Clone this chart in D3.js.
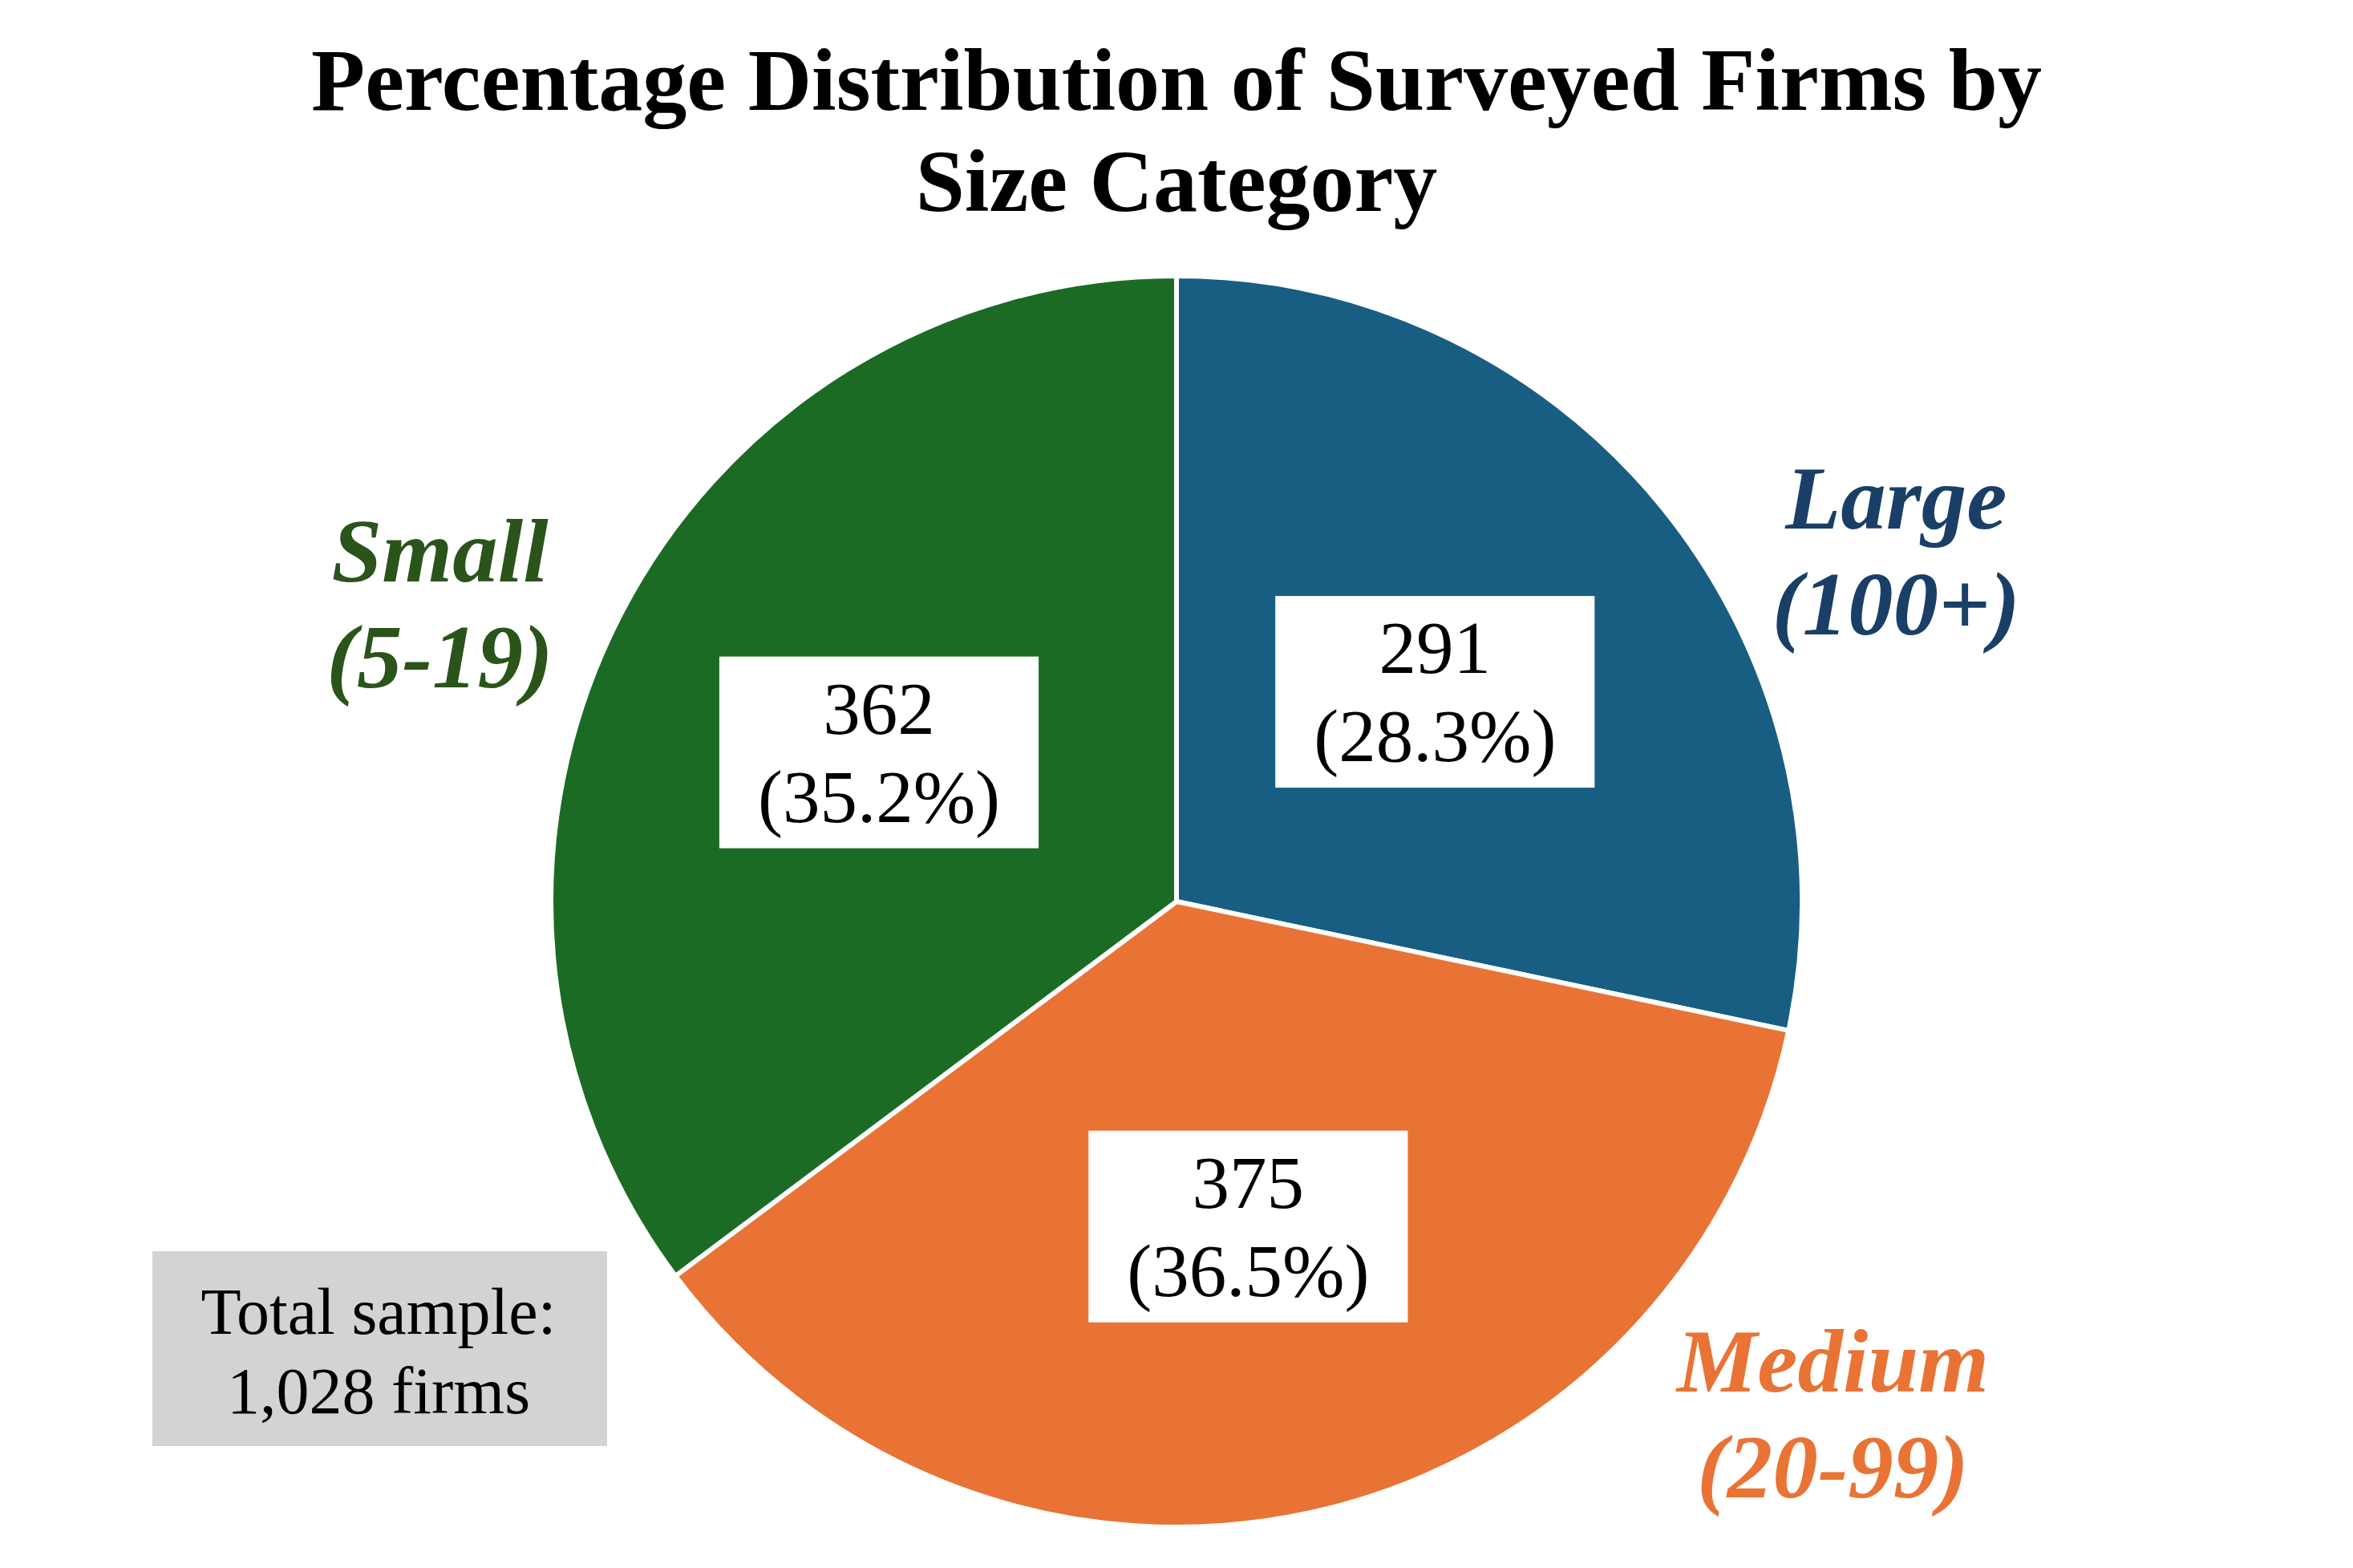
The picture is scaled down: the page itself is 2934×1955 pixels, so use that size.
<!DOCTYPE html>
<html>
<head>
<meta charset="utf-8">
<script src="https://cdn.jsdelivr.net/npm/d3@7/dist/d3.min.js"></script>
<style>
    body { margin: 0; background: #ffffff; }
    text { font-family: "Liberation Serif", "Times New Roman", Times, serif; }
</style>
</head>
<body>
<div id="chart"></div>
<script>
// Dados do gráfico (ordem horária a partir do topo)
const categories = ["Large", "Medium", "Small"];
const ranges = ["(100+)", "(20-99)", "(5-19)"];
const firms = [291, 375, 362];
const percents = [28.3, 36.5, 35.2];
const totalFirms = 1028;

const sliceColors = ["#175E82", "#E97334", "#1B6B24"];
const labelColors = ["#193F67", "#E97334", "#2A541A"];

// Posição dos rótulos das categorias (ângulo em graus, raio relativo)
const labelAngles = [64, 128, 292];
const labelRadii = [1.28, 1.33, 1.27];

// Largura e altura da página
const width = 2934;
const height = 1955;
const cx = 1467;
const cy = 1124;
const radius = 780;

const svg = d3.select("#chart")
    .append("svg")
    .attr("width", width)
    .attr("height", height);

// Título em duas linhas
const title = svg.append("text")
    .attr("text-anchor", "middle")
    .style("font-size", "110px")
    .style("font-weight", "bold")
    .attr("fill", "#000");
title.append("tspan").attr("x", width / 2).attr("y", 137)
    .text("Percentage Distribution of Surveyed Firms by");
title.append("tspan").attr("x", width / 2).attr("y", 263)
    .text("Size Category");

const data = categories.map((c, i) => ({
    cat: c, range: ranges[i], n: firms[i], pct: percents[i],
    color: sliceColors[i], labelColor: labelColors[i],
    la: labelAngles[i], lr: labelRadii[i]
}));

const pie = d3.pie().sort(null).value(d => d.n);
const arc = d3.arc().innerRadius(0).outerRadius(radius);
const arcs = pie(data);

const g = svg.append("g").attr("transform", `translate(${cx},${cy})`);

// Fatias
g.selectAll("path.slice")
    .data(arcs)
    .enter()
    .append("path")
    .attr("class", "slice")
    .attr("d", arc)
    .attr("fill", d => d.data.color)
    .attr("stroke", "#ffffff")
    .attr("stroke-width", 6)
    .attr("stroke-linejoin", "round");

// Caixas com valores dentro das fatias
const inner = d3.arc().innerRadius(radius * 0.532).outerRadius(radius * 0.532);
arcs.forEach(d => {
    const [x, y] = inner.centroid(d);
    const grp = g.append("g");
    const rect = grp.append("rect").attr("fill", "#ffffff");
    const t = grp.append("text")
        .attr("text-anchor", "middle")
        .style("font-size", "93px")
        .attr("fill", "#000");
    t.append("tspan").attr("x", 0).attr("dy", 0).text(d.data.n);
    t.append("tspan").attr("x", 0).attr("dy", 110).text(`(${d.data.pct.toFixed(1)}%)`);
    const bb = t.node().getBBox();
    const padX = 48, padY = 13;
    // centraliza o texto no ponto
    const ox = x - (bb.x + bb.width / 2);
    const oy = y - (bb.y + bb.height / 2);
    grp.attr("transform", `translate(${ox},${oy})`);
    rect.attr("x", bb.x - padX).attr("y", bb.y - padY)
        .attr("width", bb.width + padX * 2)
        .attr("height", bb.height + padY * 2);
});

// Rótulos das categorias fora da pizza
data.forEach(d => {
    const a = d.la * Math.PI / 180;
    const x = Math.sin(a) * radius * d.lr;
    const y = -Math.cos(a) * radius * d.lr;
    const grp = g.append("g");
    const t = grp.append("text")
        .attr("text-anchor", "middle")
        .style("font-size", "113px")
        .style("font-weight", "bold")
        .style("font-style", "italic")
        .attr("fill", d.labelColor);
    t.append("tspan").attr("x", 0).attr("dy", 0).text(d.cat);
    t.append("tspan").attr("x", 0).attr("dy", 132).text(d.range);
    const bb = t.node().getBBox();
    grp.attr("transform", `translate(${x - (bb.x + bb.width / 2)},${y - (bb.y + bb.height / 2)})`);
});

// Caixa com o total da amostra
const note = svg.append("g");
note.append("rect")
    .attr("x", 190).attr("y", 1560)
    .attr("width", 567).attr("height", 243)
    .attr("fill", "#D3D3D3");
const nt = note.append("text")
    .attr("text-anchor", "middle")
    .style("font-size", "82px")
    .attr("fill", "#000");
nt.append("tspan").attr("x", 472).attr("y", 1663).text("Total sample:");
nt.append("tspan").attr("x", 472).attr("y", 1762).text(`${d3.format(",")(totalFirms)} firms`);
</script>
</body>
</html>
